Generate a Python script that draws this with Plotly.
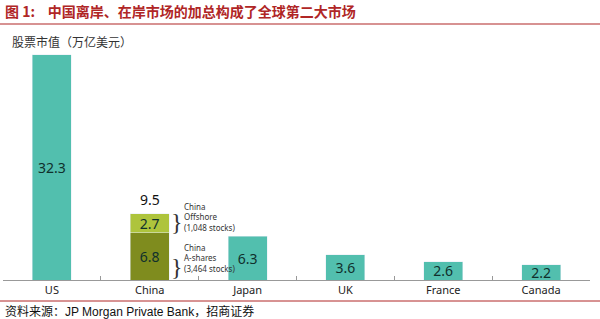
import plotly.graph_objects as go

categories = ["US", "China", "Japan", "UK", "France", "Canada"]
main_values = [32.3, None, 6.3, 3.6, 2.6, 2.2]
china_ashares = 6.8
china_offshore = 2.7
china_total = 9.5

TEAL = "#52BFAE"
OLIVE = "#7F8C1E"
LIME = "#AEC43C"
TXT = "#10302C"
RED = "#B02626"
FONT = "Noto Sans, Noto Sans CJK SC, sans-serif"

# plot area in pixels
PL, PR, PT, PB = 3, 590, 40, 280
W, H = 600, 319


def px(xp):
    return (xp - PL) / (PR - PL)


def py(yp):
    return (PB - yp) / (PB - PT)


fig = go.Figure()

fig.add_trace(go.Bar(
    x=categories, y=main_values, marker_color=TEAL, width=0.4,
    text=[None if v is None else f"{v:.1f}" for v in main_values],
    textposition="inside", insidetextanchor="middle",
    textfont=dict(color=TXT, size=14, family=FONT),
    showlegend=False,
))
fig.add_trace(go.Bar(
    x=["China"], y=[china_ashares], marker_color=OLIVE, width=0.4,
    text=[f"{china_ashares:.1f}"], textposition="inside", insidetextanchor="middle",
    textfont=dict(color=TXT, size=14, family=FONT), showlegend=False,
))
fig.add_trace(go.Bar(
    x=["China"], y=[china_offshore], marker_color=LIME, width=0.4,
    text=[f"{china_offshore:.1f}"], textposition="inside", insidetextanchor="middle",
    textfont=dict(color=TXT, size=14, family=FONT), showlegend=False,
))

fig.update_layout(
    barmode="stack",
    width=W, height=H,
    margin=dict(l=PL, r=W - PR, t=PT, b=H - PB, pad=0),
    paper_bgcolor="white", plot_bgcolor="white",
    font=dict(family=FONT, color="#222"),
    uniformtext=dict(mode="show", minsize=14),
)
fig.update_xaxes(
    type="category", range=[-0.5, 5.5],
    showline=True, linecolor="#999", linewidth=1,
    ticks="inside", tickson="boundaries", ticklen=4, tickcolor="#999",
    tickfont=dict(size=11, color="#222", family=FONT),
    showgrid=False, zeroline=False,
)
fig.update_yaxes(range=[0, 34.4], visible=False, showgrid=False, zeroline=False)

BRACE_FONT = dict(size=24, color="#333", family="Liberation Serif")
annotations = [
    dict(x="China", y=china_total, yref="y", xref="x", text=f"{china_total:.1f}",
         showarrow=False, yanchor="bottom", yshift=3, font=dict(size=14, color="#111")),
    dict(x=1.2, y=china_ashares + china_offshore / 2 + 0.1, xref="x", yref="y", text="}",
         showarrow=False, xanchor="left", font=BRACE_FONT),
    dict(x=1.2, y=1.8, xref="x", yref="y", text="}",
         showarrow=False, xanchor="left", font=BRACE_FONT),
    dict(x=1.325, y=9.0, xref="x", yref="y", text="China<br>Offshore<br>(1,048 stocks)",
         showarrow=False, xanchor="left", align="left",
         font=dict(size=8, color="#333", family=FONT)),
    dict(x=1.325, y=3.1, xref="x", yref="y", text="China<br>A-shares<br>(3,464 stocks)",
         showarrow=False, xanchor="left", align="left",
         font=dict(size=8, color="#333", family=FONT)),
    dict(x=px(3), y=py(11), xref="paper", yref="paper",
         text="<b>图 1:    中国离岸、在岸市场的加总构成了全球第二大市场</b>",
         showarrow=False, xanchor="left", yanchor="middle",
         font=dict(size=14, color=RED, family="Noto Sans CJK SC")),
    dict(x=px(10), y=py(41), xref="paper", yref="paper",
         text="股票市值（万亿美元）",
         showarrow=False, xanchor="left", yanchor="middle",
         font=dict(size=12, color="#333", family="Noto Sans CJK SC")),
    dict(x=px(3), y=py(311), xref="paper", yref="paper",
         text="资料来源：JP Morgan Private Bank，招商证券",
         showarrow=False, xanchor="left", yanchor="middle",
         font=dict(size=12, color="#111", family="Liberation Sans, Noto Sans CJK SC")),
]
fig.update_layout(annotations=annotations)

fig.add_shape(type="line", xref="paper", yref="paper", x0=px(0), x1=px(600),
              y0=py(24), y1=py(24), line=dict(color=RED, width=1.2))
fig.add_shape(type="line", xref="paper", yref="paper", x0=px(0), x1=px(600),
              y0=py(301), y1=py(301), line=dict(color=RED, width=1))

fig.write_html("out.html")
